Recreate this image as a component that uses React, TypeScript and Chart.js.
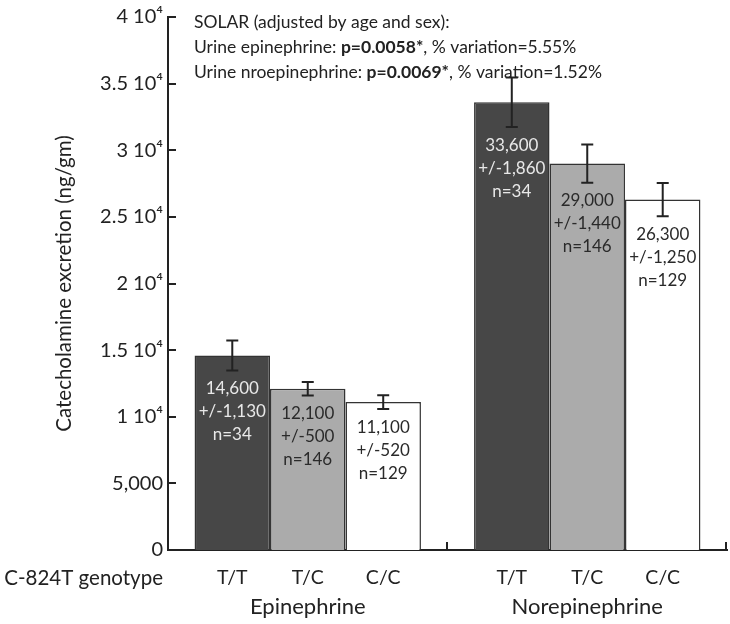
import React, { useEffect, useRef } from "react";
import { Chart, registerables } from "chart.js";

Chart.register(...registerables);

// ---- data ----
const groups = ["Epinephrine", "Norepinephrine"];
const genotypes = ["T/T", "T/C", "C/C"];
const ttValues = [14600, 33600];
const tcValues = [12100, 29000];
const ccValues = [11100, 26300];
const ttErrors = [1130, 1860];
const tcErrors = [500, 1440];
const ccErrors = [520, 1250];
const ttCounts = [34, 34];
const tcCounts = [146, 146];
const ccCounts = [129, 129];
const yTickLabels = ["0", "5,000", "1 10\u2074", "1.5 10\u2074", "2 10\u2074", "2.5 10\u2074", "3 10\u2074", "3.5 10\u2074", "4 10\u2074"];
const noteLines: [string, boolean][][] = [
  [["SOLAR (adjusted by age and sex):", false]],
  [["Urine epinephrine: ", false], ["p=0.0058*", true], [", % variation=5.55%", false]],
  [["Urine nroepinephrine: ", false], ["p=0.0069*", true], [", % variation=1.52%", false]],
];
const xAxisTitle = "C-824T genotype";
const yAxisTitle = "Catecholamine excretion (ng/gm)";

const FONT = "Lato, 'Open Sans', sans-serif";
const INK = "#222222";
const barColors = ["#474747", "#ababab", "#ffffff"];
const textColors = ["#e8e8e8", "#2a2a2a", "#2a2a2a"];

const values = [ttValues, tcValues, ccValues];
const errors = [ttErrors, tcErrors, ccErrors];
const counts = [ttCounts, tcCounts, ccCounts];

const fmt = (n: number) => n.toLocaleString("en-US");

const overlayPlugin = {
  id: "overlay",
  afterDatasetsDraw(chart: any) {
    const ctx = chart.ctx;
    const y = chart.scales.y;
    ctx.save();
    for (let d = 0; d < chart.data.datasets.length; d++) {
      const meta = chart.getDatasetMeta(d);
      meta.data.forEach((el: any, j: number) => {
        const v = values[d][j];
        const e = errors[d][j];
        const x = el.x;
        const yt = y.getPixelForValue(v + e);
        const yb = y.getPixelForValue(v - e);
        ctx.strokeStyle = INK;
        ctx.lineWidth = 2;
        ctx.beginPath();
        ctx.moveTo(x, yt);
        ctx.lineTo(x, yb);
        ctx.moveTo(x - 6, yt);
        ctx.lineTo(x + 6, yt);
        ctx.moveTo(x - 6, yb);
        ctx.lineTo(x + 6, yb);
        ctx.stroke();
        ctx.fillStyle = textColors[d];
        ctx.font = `17px ${FONT}`;
        ctx.textAlign = "center";
        ctx.textBaseline = "middle";
        const lines = [fmt(v), "+/-" + fmt(e), "n=" + counts[d][j]];
        lines.forEach((t, k) => ctx.fillText(t, x, yb + 18 + k * 23));
      });
    }
    ctx.restore();
  },
  afterDraw(chart: any) {
    const ctx = chart.ctx;
    const area = chart.chartArea;
    const ys = chart.scales.y;
    const xs = chart.scales.x;
    ctx.save();
    ctx.strokeStyle = INK;
    ctx.lineWidth = 2;
    ctx.beginPath();
    ys.ticks.forEach((t: any) => {
      const py = Math.round(ys.getPixelForValue(t.value));
      ctx.moveTo(area.left, py);
      ctx.lineTo(area.left + 8, py);
    });
    const half = (xs.getPixelForValue(1) - xs.getPixelForValue(0)) / 2;
    for (let i = 0; i < groups.length; i++) {
      const px = Math.round(xs.getPixelForValue(i) + half) - 1;
      ctx.moveTo(px, area.bottom);
      ctx.lineTo(px, area.bottom - 8);
    }
    ctx.stroke();

    ctx.fillStyle = INK;
    ctx.font = `19.5px ${FONT}`;
    ctx.textBaseline = "middle";
    ctx.textAlign = "center";
    for (let d = 0; d < chart.data.datasets.length; d++) {
      const meta = chart.getDatasetMeta(d);
      meta.data.forEach((el: any) => ctx.fillText(genotypes[d], el.x, 578));
    }
    ctx.font = `20.5px ${FONT}`;
    ctx.textAlign = "right";
    ctx.fillText(xAxisTitle, 163, 578);

    ctx.textAlign = "left";
    noteLines.forEach((segs, k) => {
      let x = 194;
      const yy = 22 + k * 25;
      segs.forEach(([t, b]) => {
        ctx.font = `${b ? "bold " : ""}17.5px ${FONT}`;
        ctx.fillText(t, x, yy);
        x += ctx.measureText(t).width;
      });
    });
    ctx.restore();
  },
};

export default function App() {
  const ref = useRef<HTMLCanvasElement | null>(null);
  useEffect(() => {
    document.body.style.margin = "0";
    const chart = new Chart(ref.current as HTMLCanvasElement, {
      type: "bar",
      data: {
        labels: groups,
        datasets: genotypes.map((g, i) => ({
          label: g,
          data: values[i],
          backgroundColor: barColors[i],
          borderColor: "#333333",
          borderWidth: 1.5,
          categoryPercentage: 0.81,
          barPercentage: 1.0,
        })),
      },
      options: {
        animation: false,
        responsive: true,
        maintainAspectRatio: false,
        layout: { padding: { top: 15, right: 3, left: 0, bottom: 0 } },
        plugins: { legend: { display: false }, tooltip: { enabled: false } },
        scales: {
          x: {
            grid: { display: false, drawTicks: false },
            border: { display: true, color: INK, width: 2 },
            ticks: { color: INK, font: { family: FONT, size: 22 }, padding: 44 },
            afterFit: (s: any) => { s.height = 74; },
          },
          y: {
            min: 0,
            max: 40000,
            grid: { display: false, drawTicks: false },
            border: { display: true, color: INK, width: 2 },
            ticks: {
              stepSize: 5000,
              color: INK,
              padding: 5,
              font: { family: FONT, size: 20 },
              callback: (_v: any, i: number) => yTickLabels[i],
            },
            title: {
              display: true,
              text: yAxisTitle,
              color: INK,
              font: { family: FONT, size: 20.5 },
              padding: { top: 52, bottom: 0 },
            },
            afterFit: (s: any) => { s.width = 168; },
          },
        },
      },
      plugins: [overlayPlugin],
    });
    return () => chart.destroy();
  }, []);
  return (
    <div style={{ width: 730, height: 624, position: "relative", background: "#fff" }}>
      <canvas ref={ref} />
    </div>
  );
}
